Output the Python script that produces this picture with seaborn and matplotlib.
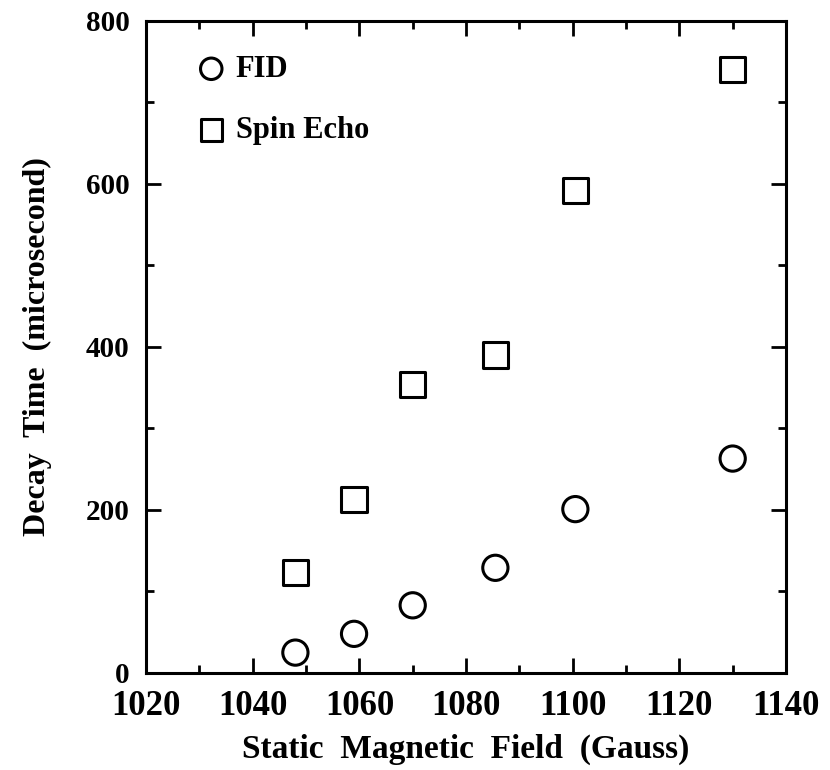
import matplotlib
matplotlib.use("Agg")
import matplotlib.pyplot as plt
import seaborn as sns
import pandas as pd
from matplotlib.ticker import MultipleLocator

field = [1048, 1059, 1070, 1085.5, 1100.5, 1130]
fid = [25, 48, 83, 129, 201, 263]
spin_echo = [123, 213, 354, 390, 592, 740]

sns.set_theme(style="ticks")
plt.rcParams["font.family"] = ["Liberation Serif", "DejaVu Serif"]
plt.rcParams["font.weight"] = "bold"
for k in ["text.color", "axes.labelcolor", "xtick.color", "ytick.color", "axes.edgecolor"]:
    plt.rcParams[k] = "black"

fig = plt.figure(figsize=(8.3, 7.7), dpi=100)
ax = fig.add_axes([0.176, 0.126, 0.771, 0.847])

df_fid = pd.DataFrame({"x": field, "y": fid})
df_se = pd.DataFrame({"x": field, "y": spin_echo})

sns.scatterplot(data=df_fid, x="x", y="y", marker="o", s=330, facecolor="none",
                edgecolor="black", linewidth=2.2, ax=ax, label="FID")
sns.scatterplot(data=df_se, x="x", y="y", marker="s", s=330, facecolor="none",
                edgecolor="black", linewidth=2.2, ax=ax, label="Spin Echo")

ax.set_xlim(1020, 1140)
ax.set_ylim(0, 800)
ax.xaxis.set_major_locator(MultipleLocator(20))
ax.xaxis.set_minor_locator(MultipleLocator(10))
ax.yaxis.set_major_locator(MultipleLocator(200))
ax.yaxis.set_minor_locator(MultipleLocator(100))
ax.tick_params(which="both", direction="in", top=True, right=True, width=2, color="black")
ax.tick_params(which="major", length=11)
ax.tick_params(which="minor", length=6)
ax.tick_params(axis="x", which="major", labelsize=25, pad=12)
ax.tick_params(axis="y", which="major", labelsize=21, pad=12)
for lab in ax.get_xticklabels() + ax.get_yticklabels():
    lab.set_fontweight("bold")
for sp in ax.spines.values():
    sp.set_linewidth(2.2)
    sp.set_color("black")

ax.set_xlabel("Static  Magnetic  Field  (Gauss)", fontsize=24, fontweight="bold", labelpad=8)
ax.set_ylabel("Decay  Time  (microsecond)", fontsize=23, fontweight="bold", labelpad=24)

leg = ax.legend(loc="upper left", bbox_to_anchor=(0.035, 0.99), frameon=False,
                prop={"size": 22, "weight": "bold"}, labelspacing=1.05,
                handletextpad=0.3, markerscale=0.85, handlelength=1.0)

fig.savefig("out.png", dpi=100)
